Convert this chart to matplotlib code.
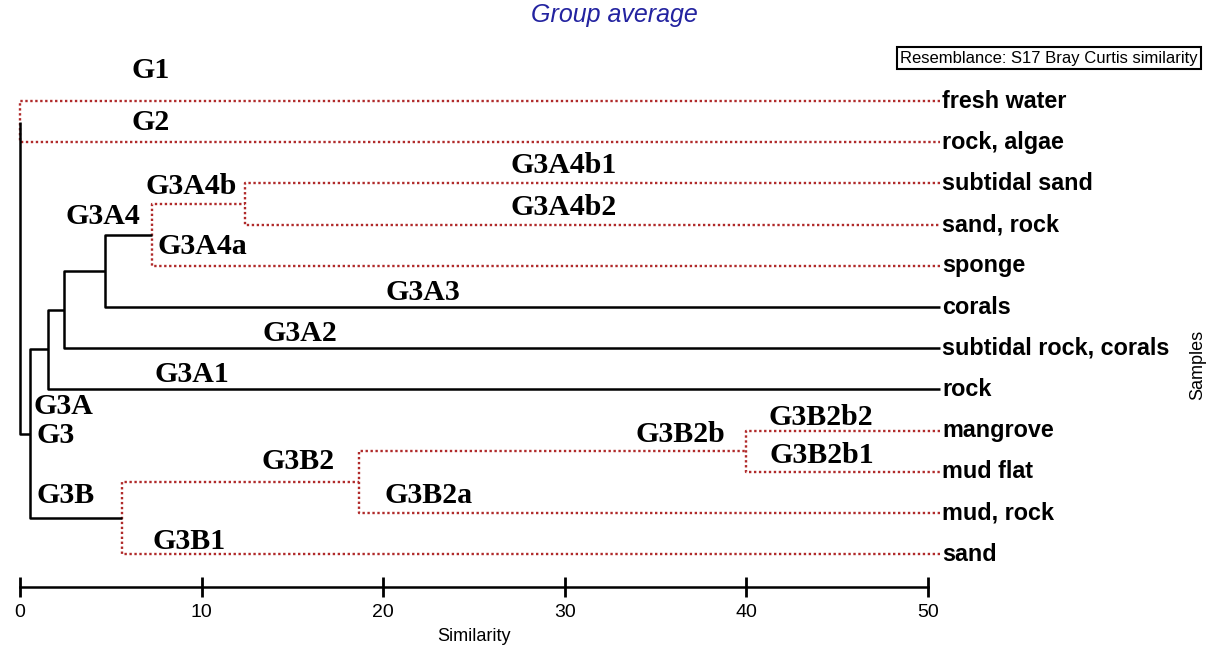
"""
Group average dendrogram (Bray Curtis similarity) redrawn with matplotlib.
Writes out.png.
"""

import matplotlib
matplotlib.use("Agg")
import matplotlib.pyplot as plt

# leaves, top to bottom
leaves = ["fresh water", "rock, algae", "subtidal sand", "sand, rock", "sponge",
          "corals", "subtidal rock, corals", "rock", "mangrove", "mud flat",
          "mud, rock", "sand"]

# merges: (child a, child b, similarity, dotted red = no significant structure)
# index < 12 is a leaf, 12 + k is the k-th merge
merges = [
    (0, 1, 0.0, True),
    (2, 3, 12.4, True),
    (4, 13, 7.26, True),
    (14, 5, 4.68, False),
    (15, 6, 2.42, False),
    (16, 7, 1.54, False),
    (8, 9, 40.0, True),
    (10, 18, 18.66, True),
    (11, 19, 5.6, True),
    (17, 20, 0.55, False),
    (12, 21, 0.0, False),
]

# group labels (name, similarity, leaf row)
group_names = ["G1", "G2", "G3A4b", "G3A4", "G3A4a", "G3A4b1", "G3A4b2", "G3A3",
               "G3A2", "G3A1", "G3A", "G3", "G3B", "G3B1", "G3B2", "G3B2a",
               "G3B2b", "G3B2b2", "G3B2b1"]
group_x = [7.21, 7.21, 9.41, 4.57, 10.02, 29.94, 29.94, 22.18, 15.41, 9.47,
           2.37, 1.98, 2.53, 9.30, 15.30, 22.51, 36.38, 44.08, 44.14]
group_y = [-0.73, 0.53, 2.07, 2.80, 3.52, 1.56, 2.58, 4.64, 5.64, 6.63,
           7.41, 8.11, 9.57, 10.68, 8.74, 9.57, 8.09, 7.68, 8.60]

xticks = [0, 10, 20, 30, 40, 50]

LEAF_END = 50.65
RED = "#b02a2a"
DOT = (0, (1, 1.1))

W, H = 1211, 646
fig = plt.figure(figsize=(W / 100, H / 100), dpi=100)
# axis: 0 at px 20, 50 at px 928; leaf rows 41.2 px apart starting at px 101
x0, x50, y_axis, y_top = 20, 928, 587, 60
ax = fig.add_axes([x0 / W, (H - y_axis) / H, (x50 - x0) / W, (y_axis - y_top) / H])
ax.set_xlim(0, 50)
ax.set_ylim((y_axis - 101) / 41.2, (y_top - 101) / 41.2)

# positions of every node
pos = {i: (LEAF_END, float(i)) for i in range(len(leaves))}
for k, (a, b, h, dotted) in enumerate(merges):
    ya, yb = pos[a][1], pos[b][1]
    style = dict(color=RED, lw=1.7, ls=DOT) if dotted else dict(color="black", lw=1.8)
    z = 2 if dotted else 3
    ax.plot([pos[a][0], h, h, pos[b][0]], [ya, ya, yb, yb],
            clip_on=False, solid_capstyle="butt", zorder=z, **style)
    pos[12 + k] = (h, (ya + yb) / 2)

for i, name in enumerate(leaves):
    ax.text(LEAF_END + 0.12, i, name, fontsize=16.8, fontweight="bold",
            family="Liberation Sans", va="center", ha="left", clip_on=False)

for name, gx, gy in zip(group_names, group_x, group_y):
    ax.text(gx, gy, name, fontsize=21.5, fontweight="bold", family="Liberation Serif",
            ha="center", va="center")

for s in ["top", "right", "left"]:
    ax.spines[s].set_visible(False)
ax.spines["bottom"].set_linewidth(1.8)
ax.set_yticks([])
ax.set_xticks(xticks)
ax.tick_params(axis="x", direction="inout", length=15, width=2, pad=5,
               labelsize=14)
for lab in ax.get_xticklabels():
    lab.set_family("Liberation Sans")
ax.set_xlabel("Similarity", fontsize=13, family="Liberation Sans", labelpad=5)

fig.text(614 / W, 1 - 15 / H, "Group average", fontsize=18, style="italic",
         color="#2323a0", family="Liberation Sans", ha="center", va="center")
fig.text(1198 / W, 1 - 365 / H, "Samples", fontsize=13, rotation=90,
         family="Liberation Sans", ha="center", va="center")
fig.text(900 / W, 1 - 58 / H, "Resemblance: S17 Bray Curtis similarity", fontsize=12,
         family="Liberation Sans", ha="left", va="center",
         bbox=dict(boxstyle="square,pad=0.2", fc="white", ec="black", lw=1.5))

fig.savefig("out.png", dpi=100)
